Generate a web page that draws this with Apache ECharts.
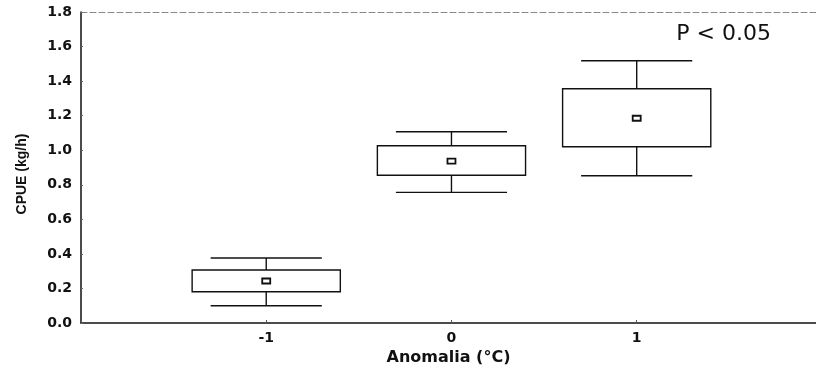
<!DOCTYPE html>
<html>
<head>
<meta charset="utf-8">
<script src="https://cdn.jsdelivr.net/npm/echarts@6/dist/echarts.min.js"></script>
<style>
  html, body { margin: 0; padding: 0; background: #fff; }
  #chart { width: 816px; height: 371px; }
</style>
</head>
<body>
<div id="chart"></div>
<script>
// Anomaly classes (°C) and CPUE summary statistics (kg/h)
const anomalies   = [-1, 0, 1];
const whiskerLow  = [0.10, 0.756, 0.852];
const q1          = [0.181, 0.855, 1.020];
const q3          = [0.307, 1.026, 1.356];
const whiskerHigh = [0.376, 1.107, 1.518];
const means       = [0.243, 0.937, 1.185];
const xTicks      = [-1, 0, 1];
const yTicks      = [0.0, 0.2, 0.4, 0.6, 0.8, 1.0, 1.2, 1.4, 1.6, 1.8];

const BOX_HALF = 0.4;   // box half width, x units
const CAP_HALF = 0.3;   // whisker cap half width, x units
const X_MIN = -2, X_MAX = 1.968;

const rows = anomalies.map((a, i) => [a, whiskerLow[i], q1[i], q3[i], whiskerHigh[i], means[i]]);

const chart = echarts.init(document.getElementById('chart'));
const lineStyle = { stroke: '#111', lineWidth: 1.4, fill: null };
const boldFont = 'DejaVu Sans';

chart.setOption({
  animation: false,
  title: {
    text: 'P < 0.05', right: 40, top: 18,
    textStyle: { fontFamily: 'DejaVu Sans', fontSize: 22, fontWeight: 'normal', color: '#111' }
  },
  grid: { left: 81, right: 0, top: 12, bottom: 48 },
  xAxis: [{
    type: 'value', min: X_MIN, max: X_MAX, interval: 1,
    name: 'Anomalia (°C)', nameLocation: 'middle', nameGap: 25,
    nameTextStyle: { fontFamily: boldFont, fontSize: 16, fontWeight: 'bold', color: '#111' },
    axisLine: { show: true, onZero: false, lineStyle: { color: '#111', width: 1.5 } },
    axisTick: { show: true, inside: true, length: 3, lineStyle: { color: '#555' } },
    axisLabel: {
      fontFamily: boldFont, fontSize: 14, fontWeight: 'bold', color: '#111', margin: 8,
      showMaxLabel: false,
      formatter: v => xTicks.includes(v) ? String(v) : ''
    },
    splitLine: { show: false }
  }, {
    type: 'value', min: X_MIN, max: X_MAX, position: 'top',
    axisLine: { show: true, onZero: false, lineStyle: { color: '#888', width: 1, type: [6, 3] } },
    axisTick: { show: false }, axisLabel: { show: false }, splitLine: { show: false }
  }],
  yAxis: {
    type: 'value', min: 0, max: 1.8, interval: 0.2,
    name: 'CPUE (kg/h)', nameLocation: 'middle', nameGap: 52, nameRotate: 90,
    nameTextStyle: { fontFamily: 'Liberation Sans', fontSize: 14, fontWeight: 'bold', color: '#111',
      padding: [0, 13, 0, 0] },
    axisLine: { show: true, onZero: false, lineStyle: { color: '#111', width: 1.5 } },
    axisTick: { show: true, inside: true, length: 2, lineStyle: { color: '#666' } },
    axisLabel: {
      fontFamily: boldFont, fontSize: 14, fontWeight: 'bold', color: '#111', margin: 9,
      formatter: v => yTicks.find(t => Math.abs(t - v) < 1e-6).toFixed(1)
    },
    splitLine: { show: false }
  },
  series: [{
    type: 'custom',
    data: rows,
    encode: { x: 0, y: [1, 2, 3, 4, 5] },
    renderItem: function (params, api) {
      const x = api.value(0);
      const lo = api.value(1), b1 = api.value(2), b3 = api.value(3), hi = api.value(4), m = api.value(5);
      const pLoL = api.coord([x - CAP_HALF, lo]), pLoR = api.coord([x + CAP_HALF, lo]);
      const pHiL = api.coord([x - CAP_HALF, hi]), pHiR = api.coord([x + CAP_HALF, hi]);
      const c1 = api.coord([x, b1]), c3 = api.coord([x, b3]);
      const cLo = api.coord([x, lo]), cHi = api.coord([x, hi]);
      const bL = api.coord([x - BOX_HALF, b3]), bR = api.coord([x + BOX_HALF, b1]);
      const cm = api.coord([x, m]);
      return {
        type: 'group',
        children: [
          { type: 'line', shape: { x1: pLoL[0], y1: pLoL[1], x2: pLoR[0], y2: pLoR[1] }, style: lineStyle },
          { type: 'line', shape: { x1: pHiL[0], y1: pHiL[1], x2: pHiR[0], y2: pHiR[1] }, style: lineStyle },
          { type: 'line', shape: { x1: cLo[0], y1: cLo[1], x2: c1[0], y2: c1[1] }, style: lineStyle },
          { type: 'line', shape: { x1: c3[0], y1: c3[1], x2: cHi[0], y2: cHi[1] }, style: lineStyle },
          { type: 'rect', shape: { x: bL[0], y: bL[1], width: bR[0] - bL[0], height: bR[1] - bL[1] },
            style: { stroke: '#111', lineWidth: 1.4, fill: '#fff' } },
          { type: 'rect', shape: { x: cm[0] - 4, y: cm[1] - 2.5, width: 8, height: 5 },
            style: { stroke: '#111', lineWidth: 1.8, fill: '#fff' } }
        ]
      };
    }
  }]
});
</script>
</body>
</html>
